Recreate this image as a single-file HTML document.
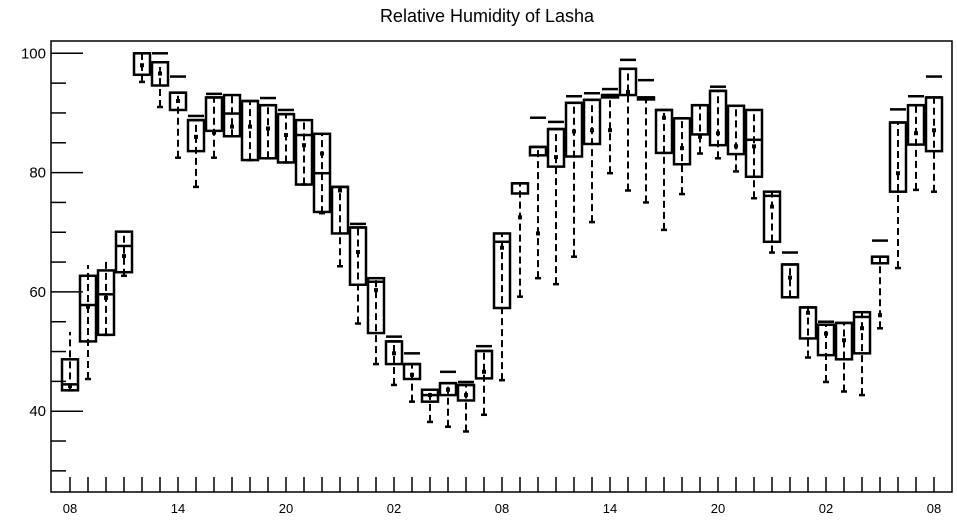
<!DOCTYPE html>
<html><head><meta charset="utf-8"><style>
body{margin:0;background:#fff;}
svg{display:block;font-family:"Liberation Sans",sans-serif;}
</style></head><body>
<svg id="chart" width="957" height="520" viewBox="0 0 957 520" xmlns="http://www.w3.org/2000/svg">
<text x="487" y="22" text-anchor="middle" font-size="18">Relative Humidity of Lasha</text>
<rect x="51" y="41" width="901" height="451" fill="none" stroke="#000" stroke-width="1.5"/>
<g id="axes"></g>
<g id="marks"></g>
</svg>
<script>
const xLabels=["08","14","20","02","08","14","20","02","08"];
const yTicks=[40,60,80,100];
const q1=[43.5,51.7,52.8,63.3,96.4,94.6,90.5,83.6,87.0,86.1,82.1,82.4,81.7,78.0,73.4,69.8,61.2,53.1,47.9,45.4,41.6,42.7,41.8,45.5,57.3,76.5,82.9,81.0,82.7,84.8,92.6,93.0,92.3,83.3,81.4,86.4,84.6,83.1,79.3,68.4,59.1,52.2,49.4,48.7,49.7,64.8,76.8,84.7,83.6];
const medians=[44.5,57.8,59.6,67.7,100,98.5,93.4,88.8,92.6,89.9,92,91.3,89.8,86.3,79.9,77.6,70.8,61.7,51.7,47.9,42.7,44.7,44.4,50.1,68.4,78.2,84.3,87.3,91.7,92.2,93,97.4,92.6,90.5,89.1,91.3,93.7,91.2,85.5,76.1,64.6,57.4,54.5,54.8,55.8,65.9,88.4,91.3,92.6];
const q3=[48.7,62.7,63.6,70.1,100,98.5,93.4,88.8,92.6,93.0,92.0,91.3,89.8,88.8,86.5,77.6,70.8,62.3,51.7,47.9,43.6,44.7,44.4,50.1,69.8,78.2,84.3,87.3,91.7,92.2,93.0,97.4,92.6,90.5,89.1,91.3,93.7,91.2,90.5,76.8,64.6,57.4,54.5,54.8,56.6,65.9,88.4,91.3,92.6];
const whiskerLow=[43.5,45.4,52.8,62.7,95.2,91.0,82.5,77.6,82.5,86.1,82.1,82.4,81.7,78.0,73.2,64.3,54.7,47.9,44.4,41.6,38.2,37.4,36.6,39.4,45.2,59.2,62.3,61.3,65.9,71.7,79.9,77.0,75.0,70.4,76.4,83.2,82.4,80.2,75.7,66.6,59.1,49.0,44.9,43.3,42.7,53.9,64.0,77.1,76.8];
const whiskerHigh=[53.3,64.5,65.1,70.1,100,98.5,93.4,88.8,92.6,93.0,92.0,91.3,89.8,88.8,86.5,77.6,70.8,62.3,51.7,47.9,43.6,44.7,44.4,50.1,69.8,78.2,84.3,87.3,91.7,92.2,93.0,97.4,92.6,90.5,89.1,91.3,93.7,91.2,90.5,76.8,64.6,57.4,54.5,54.8,56.6,65.9,88.4,91.3,92.6];
const maxValues=[null,null,null,null,null,100,96.1,89.5,93.2,null,null,92.5,90.5,null,null,null,71.4,null,52.5,49.7,null,46.6,44.9,50.9,null,null,89.2,88.5,92.8,93.3,94.0,98.9,95.5,null,null,null,94.4,null,null,null,66.6,null,55.0,null,null,68.6,90.6,92.8,96.1];
const means=[44.2,57.5,59,66,98,96.6,92,86,86.7,87.7,87.7,87.4,86.3,84.6,83.2,77,66.7,60.3,49.7,46.1,42.7,43.6,42.7,46.6,67.4,72.5,69.8,82.6,86.9,87.1,87.1,93.5,92.4,89.2,84.1,86.0,86.6,84.4,84.4,74.3,62.4,56.5,53,51.9,53.9,56.1,79.9,86.6,87.1];

const NS="http://www.w3.org/2000/svg";
const X0=70,DX=18,Y100=53.3,PPU=5.965;
const xs=i=>X0+i*DX;
const ys=v=>Y100+(100-v)*PPU;
function mk(tag,attrs,parent){const e=document.createElementNS(NS,tag);for(const k in attrs)e.setAttribute(k,attrs[k]);parent.appendChild(e);return e;}
const axes=document.getElementById('axes'),marks=document.getElementById('marks');
for(let v=30;v<=100;v+=5){
  const major=yTicks.includes(v);
  const t=mk('line',{x1:51,x2:major?83:66,y1:ys(v),y2:ys(v),stroke:'#000','stroke-width':1.5},axes);
  
  
}
yTicks.forEach(v=>{
  const t=mk('text',{x:46,y:ys(v)+5,'text-anchor':'end','font-size':15},axes);
  t.textContent=v;
  
  
});
for(let i=0;i<q1.length;i++){
  const t=mk('line',{x1:xs(i),x2:xs(i),y1:477,y2:492,stroke:'#000','stroke-width':1.5},axes);
  
  
}
xLabels.forEach((l,k)=>{
  const t=mk('text',{x:xs(k*6),y:513,'text-anchor':'middle','font-size':13},axes);
  t.textContent=l;
  
  
});
for(let i=0;i<q1.length;i++){
  const x=xs(i);
  const g=mk('g',{},marks);
  
  
  const w=mk('line',{x1:x,x2:x,y1:ys(whiskerLow[i]),y2:ys(whiskerHigh[i]),stroke:'#000','stroke-width':2,'stroke-dasharray':'7,4'},g);
  
  
  const c=mk('line',{x1:x-3,x2:x+3,y1:ys(whiskerLow[i]),y2:ys(whiskerLow[i]),stroke:'#000','stroke-width':2.5},g);
  
  
  const top=ys(q3[i]),bot=ys(q1[i]);
  const b=mk('rect',{x:x-8,y:top,width:16,height:Math.max(bot-top,2),fill:'none',stroke:'#000','stroke-width':2.5},g);
  
  
  const m=mk('line',{x1:x-8,x2:x+8,y1:ys(medians[i]),y2:ys(medians[i]),stroke:'#000','stroke-width':2.5},g);
  
  
  const mn=mk('rect',{x:x-2,y:ys(means[i])-2,width:4,height:4,fill:'#000'},g);
  
  
  if(maxValues[i]!==null){
    const mx=mk('line',{x1:x-8,x2:x+8,y1:ys(maxValues[i]),y2:ys(maxValues[i]),stroke:'#000','stroke-width':2.5},g);
    
    
  }
}
</script>
</body></html>
